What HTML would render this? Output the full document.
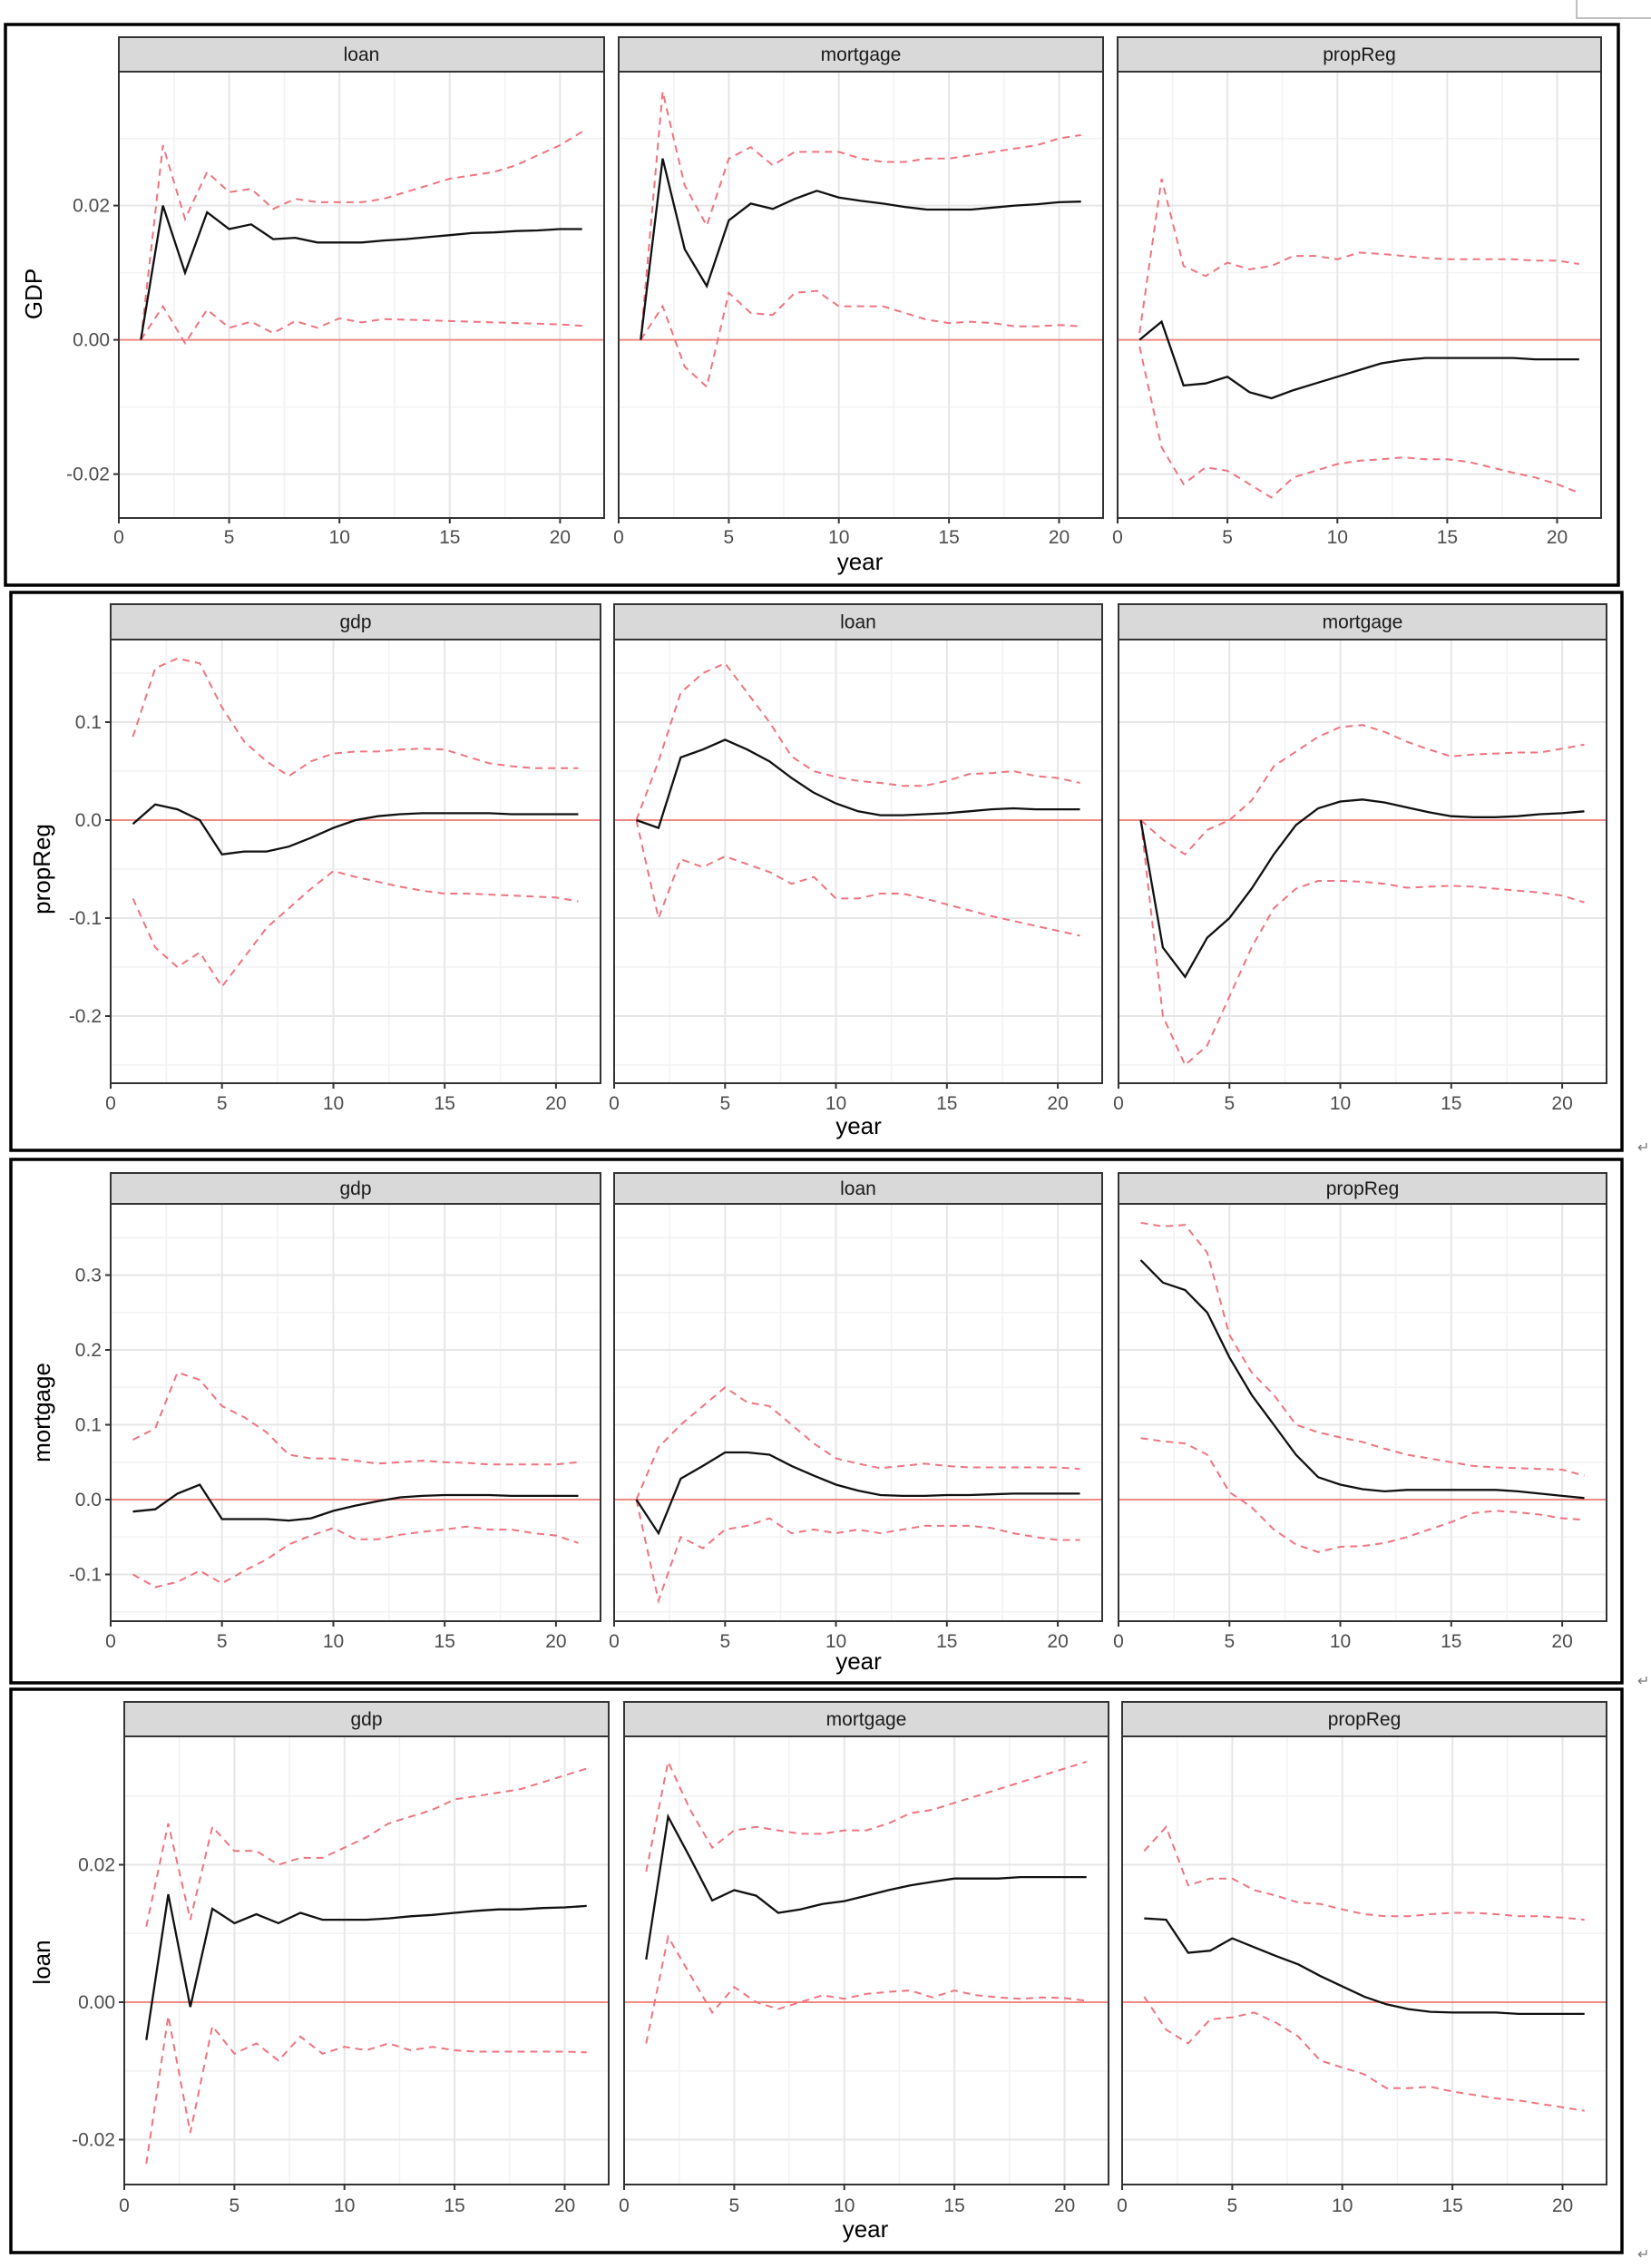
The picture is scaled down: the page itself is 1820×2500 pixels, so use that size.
<!DOCTYPE html>
<html><head><meta charset="utf-8">
<style>
html,body{margin:0;padding:0;background:#fff;}
svg{display:block;}
text{font-family:"Liberation Sans",Arial,sans-serif;}
</style></head>
<body>
<svg id="s" width="1820" height="2500" viewBox="0 0 1820 2500" xmlns="http://www.w3.org/2000/svg">
<rect width="1820" height="2500" fill="#fff"/>
<path d="M1738,0 V20 H1820" fill="none" stroke="#aaa" stroke-width="1.5"/>
<text x="1805" y="1270" font-size="16" fill="#777">↵</text>
<text x="1805" y="1858" font-size="16" fill="#777">↵</text>
<text x="1805" y="2490" font-size="16" fill="#777">↵</text>
</svg>
<script>
var R=[
{box:[6,27,1784,645],panels:[[131,666],[682,1216],[1232,1765]],st:41,sb:79,pb:571,y0:374.6,sc:7400,
 ticks:[[0.02,'0.02'],[0,'0.00'],[-0.02,'-0.02']],minor:0.01,xl:591,yr:619,lab:'GDP',lx:37,ly:324,
 names:['loan','mortgage','propReg'],
 d:[
 [[0,.020,.010,.019,.0165,.0172,.015,.0152,.0145,.0145,.0145,.0148,.015,.0153,.0156,.0159,.016,.0162,.0163,.0165,.0165],
  [0,.029,.018,.025,.022,.0225,.0195,.021,.0205,.0205,.0205,.021,.022,.023,.024,.0245,.025,.026,.0275,.029,.031],
  [0,.005,-.0005,.0045,.0018,.0027,.001,.0028,.0018,.0032,.0026,.0031,.003,.0029,.0028,.0027,.0026,.0025,.0024,.0023,.0021]],
 [[0,.027,.0135,.008,.0178,.0203,.0195,.021,.0222,.0212,.0207,.0203,.0198,.0194,.0194,.0194,.0197,.02,.0202,.0205,.0206],
  [0,.037,.023,.017,.027,.0287,.026,.028,.028,.028,.027,.0265,.0265,.027,.027,.0275,.028,.0285,.029,.03,.0305],
  [0,.005,-.004,-.007,.007,.004,.0037,.007,.0073,.005,.005,.005,.004,.003,.0025,.0027,.0025,.002,.002,.0022,.002]],
 [[0,.0027,-.0068,-.0065,-.0055,-.0078,-.0087,-.0075,-.0065,-.0055,-.0045,-.0035,-.003,-.0027,-.0027,-.0027,-.0027,-.0027,-.0029,-.0029,-.0029],
  [.001,.024,.011,.0095,.0115,.0105,.011,.0125,.0125,.012,.013,.0128,.0125,.0122,.012,.012,.012,.012,.0118,.0118,.0113],
  [-.001,-.016,-.0215,-.019,-.0195,-.0215,-.0235,-.0205,-.0195,-.0185,-.018,-.0178,-.0175,-.0178,-.0178,-.0182,-.019,-.0198,-.0205,-.0215,-.0228]]
 ]},
{box:[12,653,1788,1268],panels:[[122,662],[677,1215],[1233,1771]],st:666,sb:705,pb:1194,y0:904,sc:1080,
 ticks:[[0.1,'0.1'],[0,'0.0'],[-0.1,'-0.1'],[-0.2,'-0.2']],minor:0.05,xl:1215,yr:1241,lab:'propReg',lx:46,ly:958,
 names:['gdp','loan','mortgage'],
 d:[
 [[-.004,.016,.011,0,-.035,-.032,-.032,-.027,-.018,-.008,0,.004,.006,.007,.007,.007,.007,.006,.006,.006,.006],
  [.085,.155,.165,.16,.115,.08,.06,.045,.06,.068,.07,.07,.072,.073,.072,.065,.058,.055,.053,.053,.053],
  [-.08,-.13,-.15,-.135,-.17,-.14,-.11,-.09,-.07,-.052,-.058,-.063,-.068,-.072,-.075,-.075,-.076,-.077,-.078,-.079,-.083]],
 [[0,-.008,.064,.072,.082,.072,.06,.043,.028,.017,.009,.005,.005,.006,.007,.009,.011,.012,.011,.011,.011],
  [0,.06,.13,.15,.16,.13,.1,.065,.05,.044,.04,.038,.035,.035,.04,.047,.048,.05,.045,.043,.038],
  [0,-.1,-.04,-.048,-.037,-.045,-.053,-.065,-.058,-.08,-.08,-.075,-.075,-.08,-.086,-.092,-.098,-.103,-.108,-.113,-.118]],
 [[0,-.13,-.16,-.12,-.1,-.07,-.035,-.005,.012,.019,.021,.018,.013,.008,.004,.003,.003,.004,.006,.007,.009],
  [0,-.02,-.035,-.01,0,.02,.055,.07,.085,.095,.097,.09,.08,.072,.065,.067,.068,.069,.069,.073,.077],
  [0,-.2,-.25,-.23,-.18,-.13,-.09,-.07,-.062,-.062,-.063,-.065,-.069,-.068,-.067,-.068,-.07,-.072,-.074,-.077,-.084]]
 ]},
{box:[12,1278,1788,1855],panels:[[122,662],[677,1215],[1233,1771]],st:1293,sb:1327,pb:1787,y0:1653,sc:825,
 ticks:[[0.3,'0.3'],[0.2,'0.2'],[0.1,'0.1'],[0,'0.0'],[-0.1,'-0.1']],minor:0.05,xl:1808,yr:1831,lab:'mortgage',lx:46,ly:1557,
 names:['gdp','loan','propReg'],
 d:[
 [[-.016,-.013,.008,.02,-.026,-.026,-.026,-.028,-.025,-.015,-.008,-.002,.003,.005,.006,.006,.006,.005,.005,.005,.005],
  [.08,.095,.17,.16,.125,.11,.09,.06,.055,.055,.052,.048,.05,.052,.05,.049,.047,.047,.047,.047,.05],
  [-.1,-.117,-.11,-.095,-.112,-.095,-.08,-.06,-.048,-.038,-.053,-.053,-.047,-.043,-.04,-.036,-.04,-.04,-.045,-.048,-.058]],
 [[0,-.045,.028,.045,.063,.063,.06,.045,.032,.02,.012,.006,.005,.005,.006,.006,.007,.008,.008,.008,.008],
  [0,.07,.1,.125,.15,.13,.125,.1,.075,.055,.048,.042,.045,.048,.045,.043,.043,.043,.043,.043,.041],
  [0,-.135,-.05,-.065,-.04,-.035,-.025,-.045,-.04,-.045,-.04,-.045,-.04,-.035,-.035,-.035,-.038,-.045,-.05,-.054,-.054]],
 [[.32,.29,.28,.25,.19,.14,.1,.06,.03,.02,.014,.011,.013,.013,.013,.013,.013,.011,.008,.005,.002],
  [.37,.365,.367,.33,.22,.17,.14,.1,.09,.083,.077,.068,.06,.055,.05,.045,.043,.042,.041,.04,.032],
  [.082,.078,.075,.06,.01,-.01,-.04,-.06,-.07,-.063,-.062,-.058,-.05,-.04,-.03,-.018,-.015,-.017,-.02,-.025,-.027]]
 ]},
{box:[12,1862,1788,2483],panels:[[137,671],[688,1222],[1237,1771]],st:1876,sb:1914,pb:2408,y0:2207,sc:7575,
 ticks:[[0.02,'0.02'],[0,'0.00'],[-0.02,'-0.02']],minor:0.01,xl:2430,yr:2457,lab:'loan',lx:46,ly:2163,
 names:['gdp','mortgage','propReg'],
 d:[
 [[-.0055,.0157,-.0007,.0136,.0115,.0128,.0115,.013,.012,.012,.012,.0122,.0125,.0127,.013,.0133,.0135,.0135,.0137,.0138,.014],
  [.011,.026,.012,.0255,.022,.022,.02,.021,.021,.0225,.024,.026,.027,.028,.0295,.03,.0305,.031,.032,.033,.034],
  [-.0235,-.002,-.019,-.0035,-.0075,-.006,-.0085,-.005,-.0075,-.0065,-.007,-.006,-.007,-.0065,-.007,-.0072,-.0072,-.0072,-.0072,-.0072,-.0073]],
 [[.0062,.027,.021,.0148,.0163,.0155,.013,.0135,.0143,.0147,.0155,.0163,.017,.0175,.018,.018,.018,.0182,.0182,.0182,.0182],
  [.019,.035,.028,.0225,.025,.0255,.025,.0245,.0245,.025,.025,.026,.0275,.028,.029,.03,.031,.032,.033,.034,.035],
  [-.006,.0095,.004,-.0015,.0022,0,-.001,0,.001,.0005,.0012,.0015,.0017,.0007,.0017,.001,.0007,.0005,.0007,.0006,.0002]],
 [[.0122,.012,.0072,.0075,.0093,.008,.0067,.0055,.0038,.0023,.0008,-.0003,-.001,-.0014,-.0015,-.0015,-.0015,-.0017,-.0017,-.0017,-.0017],
  [.022,.0255,.017,.018,.018,.0163,.0155,.0145,.0143,.0135,.0128,.0125,.0125,.0128,.013,.013,.0128,.0125,.0125,.0123,.012],
  [.0008,-.004,-.006,-.0025,-.0022,-.0015,-.003,-.005,-.0085,-.0095,-.0105,-.0125,-.0125,-.0123,-.013,-.0135,-.014,-.0143,-.0148,-.0153,-.0158]]
 ]}
];
var o='';
R.forEach(function(r){
  var b=r.box;
  o+='<rect x="'+b[0]+'" y="'+b[1]+'" width="'+(b[2]-b[0])+'" height="'+(b[3]-b[1])+'" fill="none" stroke="#000" stroke-width="3.5"/>';
  var Y=function(v){return r.y0-v*r.sc;};
  var lo=(r.y0-r.pb)/r.sc, hi=(r.y0-r.sb)/r.sc;
  r.panels.forEach(function(p,pi){
    var X=function(v){return p[0]+(p[1]-p[0])*v/22;};
    o+='<clipPath id="c'+r.st+pi+'"><rect x="'+p[0]+'" y="'+r.sb+'" width="'+(p[1]-p[0])+'" height="'+(r.pb-r.sb)+'"/></clipPath>';
    // minor grid
    for(var v=Math.ceil(lo/r.minor)*r.minor; v<=hi; v+=r.minor){
      o+='<line x1="'+p[0]+'" x2="'+p[1]+'" y1="'+Y(v).toFixed(1)+'" y2="'+Y(v).toFixed(1)+'" stroke="#f2f2f2" stroke-width="1.5"/>';
    }
    for(var xv=2.5; xv<22; xv+=5){o+='<line y1="'+r.sb+'" y2="'+r.pb+'" x1="'+X(xv).toFixed(1)+'" x2="'+X(xv).toFixed(1)+'" stroke="#f2f2f2" stroke-width="1.5"/>';}
    r.ticks.forEach(function(t){o+='<line x1="'+p[0]+'" x2="'+p[1]+'" y1="'+Y(t[0]).toFixed(1)+'" y2="'+Y(t[0]).toFixed(1)+'" stroke="#e6e6e6" stroke-width="2"/>';});
    for(var xv=0; xv<=20; xv+=5){o+='<line y1="'+r.sb+'" y2="'+r.pb+'" x1="'+X(xv).toFixed(1)+'" x2="'+X(xv).toFixed(1)+'" stroke="#e6e6e6" stroke-width="2"/>';}
    // zero line
    o+='<line x1="'+p[0]+'" x2="'+p[1]+'" y1="'+Y(0).toFixed(1)+'" y2="'+Y(0).toFixed(1)+'" stroke="#f08a84" stroke-width="2"/>';
    var d=r.d[pi];
    var pts=function(a){return a.map(function(v,i){return X(i+1).toFixed(1)+','+Y(v).toFixed(1);}).join(' ');};
    o+='<g clip-path="url(#c'+r.st+pi+')">';
    o+='<polyline points="'+pts(d[1])+'" fill="none" stroke="#ee7480" stroke-width="2" stroke-dasharray="8,6"/>';
    o+='<polyline points="'+pts(d[2])+'" fill="none" stroke="#ee7480" stroke-width="2" stroke-dasharray="8,6"/>';
    o+='<polyline points="'+pts(d[0])+'" fill="none" stroke="#111" stroke-width="2.3"/>';
    o+='</g>';
    // panel border & strip
    o+='<rect x="'+p[0]+'" y="'+r.st+'" width="'+(p[1]-p[0])+'" height="'+(r.sb-r.st)+'" fill="#d9d9d9" stroke="#333" stroke-width="2"/>';
    o+='<text x="'+((p[0]+p[1])/2)+'" y="'+((r.st+r.sb)/2+7)+'" font-size="21" text-anchor="middle" fill="#1a1a1a">'+r.names[pi]+'</text>';
    o+='<rect x="'+p[0]+'" y="'+r.sb+'" width="'+(p[1]-p[0])+'" height="'+(r.pb-r.sb)+'" fill="none" stroke="#333" stroke-width="2"/>';
    for(var xv=0; xv<=20; xv+=5){
      var xx=X(xv).toFixed(1);
      o+='<line x1="'+xx+'" x2="'+xx+'" y1="'+r.pb+'" y2="'+(r.pb+6)+'" stroke="#333" stroke-width="2"/>';
      o+='<text x="'+xx+'" y="'+(r.xl+8)+'" font-size="21" text-anchor="middle" fill="#4d4d4d">'+xv+'</text>';
    }
    if(pi==0){
      r.ticks.forEach(function(t){
        var yy=Y(t[0]).toFixed(1);
        o+='<line x1="'+(p[0]-6)+'" x2="'+p[0]+'" y1="'+yy+'" y2="'+yy+'" stroke="#333" stroke-width="2"/>';
        o+='<text x="'+(p[0]-10)+'" y="'+(+yy+7)+'" font-size="21" text-anchor="end" fill="#4d4d4d">'+t[1]+'</text>';
      });
    }
  });
  var cx=(r.panels[0][0]+r.panels[2][1])/2;
  o+='<text x="'+cx+'" y="'+(r.yr+9)+'" font-size="26" text-anchor="middle" fill="#000">year</text>';
  o+='<text transform="translate('+(r.lx+9)+','+r.ly+') rotate(-90)" font-size="26" text-anchor="middle" fill="#000">'+r.lab+'</text>';
});
document.getElementById('s').insertAdjacentHTML('beforeend',o);
</script>
</body></html>
